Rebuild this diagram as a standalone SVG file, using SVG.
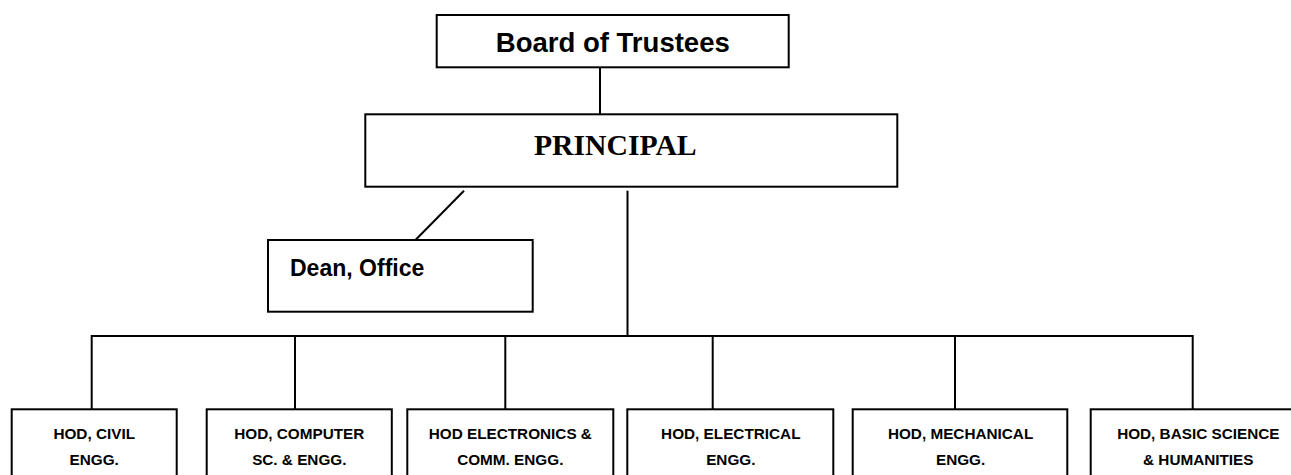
<svg xmlns="http://www.w3.org/2000/svg" width="1291" height="475" viewBox="0 0 1291 475">
  <style>
    .box { fill: #ffffff; stroke: #000000; stroke-width: 2; }
    .wire { fill: none; stroke: #000000; stroke-width: 2; }
    .sans { font-family: "Liberation Sans", Arial, sans-serif; font-weight: bold; fill: #000000; }
    .serif { font-family: "Liberation Serif", "Times New Roman", serif; font-weight: bold; fill: #000000; }
    .hod { font-size: 15.3px; text-anchor: middle; }
  </style>
  <rect x="0" y="0" width="1291" height="475" fill="#ffffff"/>

  <!-- connectors -->
  <g id="connectors" class="wire">
    <line x1="600" y1="67" x2="600" y2="114"/>
    <line x1="464" y1="190.7" x2="415.7" y2="239.7"/>
    <line x1="627.5" y1="190.7" x2="627.5" y2="336"/>
    <line x1="91.7" y1="336" x2="1192.7" y2="336"/>
    <line x1="91.7" y1="335" x2="91.7" y2="409.3"/>
    <line x1="295" y1="336" x2="295" y2="409.3"/>
    <line x1="505.3" y1="336" x2="505.3" y2="409.3"/>
    <line x1="712.7" y1="336" x2="712.7" y2="409.3"/>
    <line x1="955" y1="336" x2="955" y2="409.3"/>
    <line x1="1192.7" y1="335" x2="1192.7" y2="409.3"/>
  </g>

  <g id="board">
    <rect class="box" x="436.7" y="15" width="352" height="52.3"/>
    <text class="sans" x="612.8" y="52.3" font-size="27" text-anchor="middle" textLength="234" lengthAdjust="spacingAndGlyphs">Board of Trustees</text>
  </g>

  <g id="principal">
    <rect class="box" x="365.3" y="114.3" width="532" height="72.4"/>
    <text class="serif" x="615.3" y="155" font-size="29" text-anchor="middle" textLength="162.7" lengthAdjust="spacingAndGlyphs">PRINCIPAL</text>
  </g>

  <g id="dean">
    <rect class="box" x="268" y="240" width="264.7" height="71.7"/>
    <text class="sans" x="290" y="276" font-size="23" textLength="134.3" lengthAdjust="spacingAndGlyphs">Dean, Office</text>
  </g>

  <g id="hod-civil">
    <rect class="box" x="11.7" y="409.3" width="165" height="80"/>
    <text class="sans hod" x="94.2" y="439">HOD, CIVIL</text>
    <text class="sans hod" x="94.2" y="464.5">ENGG.</text>
  </g>

  <g id="hod-computer">
    <rect class="box" x="206.7" y="409.3" width="185.1" height="80"/>
    <text class="sans hod" x="299.3" y="439">HOD, COMPUTER</text>
    <text class="sans hod" x="299.3" y="464.5">SC. &amp; ENGG.</text>
  </g>

  <g id="hod-electronics">
    <rect class="box" x="407.3" y="409.3" width="206" height="80"/>
    <text class="sans hod" x="510.3" y="439">HOD ELECTRONICS &amp;</text>
    <text class="sans hod" x="510.3" y="464.5">COMM. ENGG.</text>
  </g>

  <g id="hod-electrical">
    <rect class="box" x="627.3" y="409.3" width="206" height="80"/>
    <text class="sans hod" x="730.8" y="439">HOD, ELECTRICAL</text>
    <text class="sans hod" x="730.8" y="464.5">ENGG.</text>
  </g>

  <g id="hod-mechanical">
    <rect class="box" x="852.7" y="409.3" width="214.6" height="80"/>
    <text class="sans hod" x="960.6" y="439">HOD, MECHANICAL</text>
    <text class="sans hod" x="960.6" y="464.5">ENGG.</text>
  </g>

  <g id="hod-basic-science">
    <rect class="box" x="1090.7" y="409.3" width="216" height="80"/>
    <text class="sans hod" x="1198.3" y="439">HOD, BASIC SCIENCE</text>
    <text class="sans hod" x="1198.3" y="464.5">&amp; HUMANITIES</text>
  </g>
</svg>
